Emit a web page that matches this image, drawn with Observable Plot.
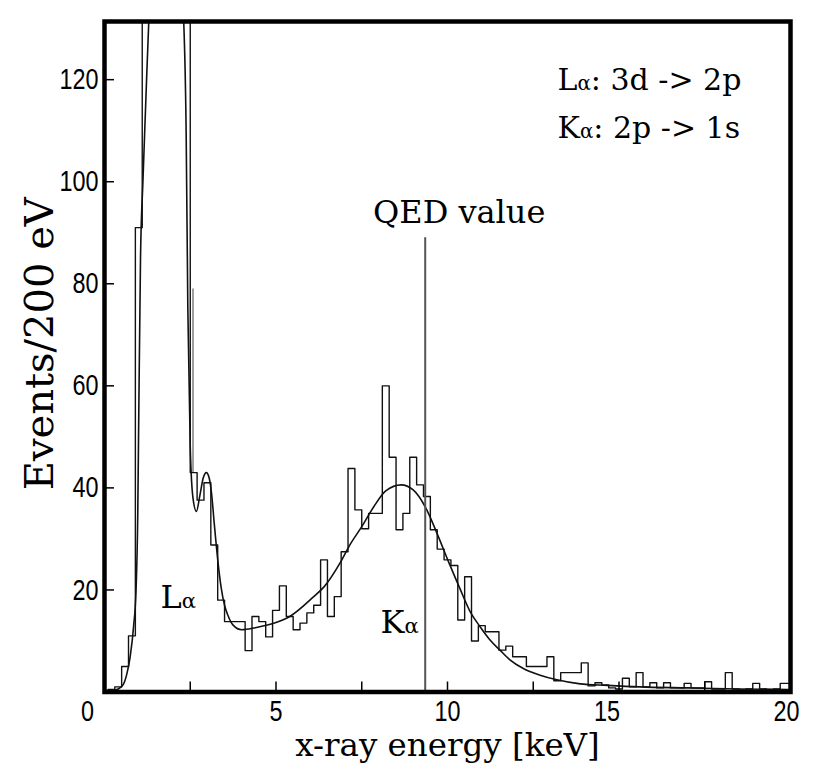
<!DOCTYPE html>
<html><head><meta charset="utf-8">
<script src="https://cdn.jsdelivr.net/npm/d3@7"></script>
<script src="https://cdn.jsdelivr.net/npm/@observablehq/plot@0.6"></script>
<style>
html,body{margin:0;padding:0;background:#fff;overflow:hidden}
</style></head><body><div id="chart"></div>
<script>
// ---- data ----
const binStart = 0.1;   // keV, left edge of the first 200 eV bin
const binWidth = 0.2;   // keV
const counts = [
  0.5, 1, 5, 11, 91, 133, 133, 133, 133, 133,
  133, 133, 43, 37.6, 41, 28.8, 18, 13.8, 13.8, 13.8,
  8.1, 14.8, 13.8, 10.8, 16, 20.8, 14.8, 12.2, 13.5, 15.5,
  17, 25.9, 14.8, 18.7, 27.5, 43.8, 35.7, 32, 35, 35,
  60, 46, 31.8, 35, 46, 40.6, 38.3, 31.8, 28, 25.9,
  24.8, 14.1, 22.6, 10, 13, 11.8, 11.8, 8.2, 9, 6.9,
  6.9, 5, 5, 5, 6.9, 2.2, 3.8, 3.8, 3.8, 5.7,
  1.2, 1.8, 1.4, 0.8, 0.6, 2.7, 1, 3.8, 1, 1.8,
  0.8, 1.8, 0.8, 0.8, 1.7, 0.8, 0.8, 2, 0.6, 0.6,
  3.8, 0.6, 0.4, 0.6, 1.7, 0.6, 0.4, 0.6, 1.7, 1.7
];
const fitEnergy = [0.2,0.4,0.55,0.65,0.75,0.85,0.92,0.97,1.0,1.05,
  1.12,1.2,1.3,1.5,2.1,2.3,2.38,2.43,2.5,2.58,
  2.68,2.78,2.88,2.97,3.05,3.12,3.2,3.3,3.4,3.5,
  3.6,3.75,4.0,4.4,5.0,5.4,6.1,6.4,6.86,7.15,
  7.5,7.85,8.2,8.65,9.0,9.35,9.7,10.05,10.36,10.68,
  10.95,11.24,11.53,11.82,12.21,12.7,13.19,13.87,14.65,15.6,
  17,18.5,20];
const fitCounts = [0.2,0.6,1.5,3.5,7,13,20,35,55,85,
  100,115,133,150,150,133,110,75,48,38,
  35.4,38.5,42,43,42,39,33,26,20.5,17,
  15,13.1,12.2,12.6,13.6,14.8,18.7,20.6,25.2,28.8,
  32.4,36.3,39.4,40.6,39.6,36.3,31,25.2,20.3,15.5,
  12.8,10.2,8.2,6.3,4.6,3.3,2.4,1.6,1.3,1.0,
  0.8,0.6,0.5];
const spikeEnergy = [2.58];
const spikeLow = [43];
const spikeHigh = [79];
const qedEnergy = [9.35];
const qedTop = [89];
const qedLabel = ["QED value"];
const xTickValues = [0, 2.5, 5, 7.5, 10, 12.5, 15, 17.5, 20];
const xTickLabels = [0, 5, 10, 15, 20];
const yTickValues = [20, 40, 60, 80, 100, 120];
const peakLabels = ["Lα", "Kα"];
const peakLabelEnergy = [1.63, 8.05];
const peakLabelCounts = [18.5, 13.5];
const legendLines = ["Lα: 3d -> 2p", "Kα: 2p -> 1s"];
const xTitle = "x-ray energy [keV]";
const yTitle = "Events/200 eV";

// ---- build tables ----
const hist = counts.map((c, i) => ({e: binStart + i * binWidth, c}));
hist.push({e: binStart + counts.length * binWidth, c: counts[counts.length - 1]});
const fit = fitEnergy.map((e, i) => ({e, c: fitCounts[i]}));
const spike = spikeEnergy.map((e, i) => ({e, lo: spikeLow[i], hi: spikeHigh[i]}));
const qed = qedEnergy.map((e, i) => ({e, top: qedTop[i], label: qedLabel[i]}));
const peaks = peakLabels.map((t, i) => ({t, e: peakLabelEnergy[i], c: peakLabelCounts[i]}));

const serif = "DejaVu Serif, Liberation Serif, serif";
const sans = "'Liberation Sans', Arial, sans-serif";

const W = 824, H = 782, ML = 104, MR = 34, MT = 21, MB = 90.5;
const innerW = W - ML - MR, innerH = H - MT - MB;
const tickFont = 30;
const tickOpts = {tickSize: 0, tickPadding: 8, fontSize: tickFont, label: null};

const plot = Plot.plot({
  width: W, height: H,
  marginLeft: ML, marginRight: MR, marginTop: MT, marginBottom: MB,
  x: {domain: [0, 20], label: null},
  y: {domain: [0, 131.4], label: null},
  style: {fontFamily: sans, background: "#fff", color: "#000", overflow: "visible"},
  marks: [
    Plot.line(hist, {x: "e", y: "c", curve: "step-after", stroke: "#111", strokeWidth: 1.4, clip: true}),
    Plot.line(fit, {x: "e", y: "c", curve: "monotone-x", stroke: "#111", strokeWidth: 1.6, clip: true}),
    Plot.ruleX(spike, {x: "e", y1: "lo", y2: "hi", stroke: "#888", strokeWidth: 1.6}),
    Plot.ruleX(qed, {x: "e", y1: 0, y2: "top", stroke: "#555", strokeWidth: 2}),
    Plot.text(qed, {x: "e", y: "top", text: "label", dx: 34, dy: -25, fontSize: 32, fontFamily: serif, fill: "#000"}),
    Plot.text(peaks, {x: "e", y: "c", text: "t", textAnchor: "start", fontSize: 32, fontFamily: serif, fill: "#000"}),
    Plot.text([legendLines[0]], {frameAnchor: "top-left", dx: 453, dy: 47, lineAnchor: "top", textAnchor: "start", fontSize: 30, fontFamily: serif, fill: "#000"}),
    Plot.text([legendLines[1]], {frameAnchor: "top-left", dx: 453, dy: 95, lineAnchor: "top", textAnchor: "start", fontSize: 30, fontFamily: serif, fill: "#000"}),
    Plot.tickX(xTickValues, {x: d => d, insetTop: innerH - 10, stroke: "#000", strokeWidth: 1.5}),
    Plot.tickY(yTickValues, {y: d => d, insetRight: innerW - 10, stroke: "#000", strokeWidth: 1.5}),
    Plot.axisX(xTickLabels.slice(0, 1), {...tickOpts, dx: -17}),
    Plot.axisX(xTickLabels.slice(1, 3), {...tickOpts}),
    Plot.axisX(xTickLabels.slice(3, 4), {...tickOpts, dx: -12}),
    Plot.axisX(xTickLabels.slice(4), {...tickOpts, dx: -4}),
    Plot.axisY(yTickValues, {...tickOpts, tickPadding: 6}),
    Plot.text([xTitle], {frameAnchor: "bottom", dy: 54, lineAnchor: "middle", textAnchor: "middle", fontSize: 32.5, fontFamily: serif, fill: "#000"}),
    Plot.text([yTitle], {frameAnchor: "left", dx: -64, dy: -13, rotate: -90, lineAnchor: "middle", textAnchor: "middle", fontSize: 40, fontFamily: serif, fill: "#000"}),
    Plot.frame({stroke: "#000", strokeWidth: 4.5})
  ]
});

// condensed tick labels, like the narrow sans of the original
d3.select(plot).selectAll('g[aria-label$="tick label"] text').attr("transform", function () {
  return (this.getAttribute("transform") || "") + " scale(0.78,1)";
});

// smaller alpha, as in the original labels
d3.select(plot).selectAll("text").each(function () {
  const s = this.textContent;
  if (!s.includes("α") || this.querySelector("tspan")) return;
  const sel = d3.select(this);
  sel.text("");
  s.split(/(α)/).forEach(part => {
    if (!part) return;
    const t = sel.append("tspan").text(part);
    if (part === "α") t.attr("font-size", "0.66em");
  });
});

document.getElementById("chart").append(plot);
</script>
</body></html>
